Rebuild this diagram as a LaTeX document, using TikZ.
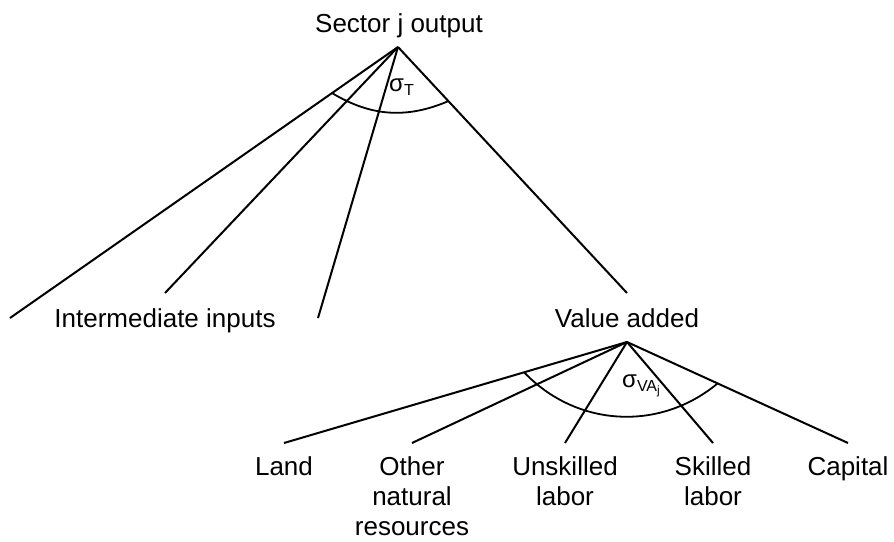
\documentclass[tikz,border=0pt]{standalone}
\usepackage{fontspec}
\setmainfont{Liberation Sans}
\usetikzlibrary{calc}
\tikzstyle{edge}  =[line width=1pt]
\tikzstyle{cesarc}=[line width=0.9pt]
\tikzstyle{lbl}   =[inner sep=0pt, anchor=north, align=center,
                    font=\fontsize{13}{15}\selectfont]
\tikzstyle{sig}   =[inner sep=0pt, font=\fontsize{12}{14}\selectfont]

\begin{document}
\begin{tikzpicture}[x=0.5pt,y=-0.5pt]
    \useasboundingbox (0,0) rectangle (894,541);

    % top nest
    \node[lbl] (sector) at (399,13) {Sector j output};
    \coordinate (top) at (398,47);
    \node[lbl] (inter) at (165,308) {Intermediate inputs};
    \node[lbl] (value) at (627,308) {Value added};

    \coordinate (ii1) at (10,318);
    \coordinate (ii2) at ([yshift=7.5pt]inter.north);
    \coordinate (ii3) at (318,318);
    \coordinate (vaend) at ([yshift=7.5pt]value.north);

    \foreach \e in {ii1,ii2,ii3,vaend}
        \draw [edge] (top) -- (\e);

    \draw [cesarc] ($(top)!0.17!(ii1)$) to[bend right=27] ($(top)!0.22!(vaend)$);
    \node[sig] (sigT) at (402,87) {σ\textsubscript{T}};

    % value added nest
    \coordinate (vatop) at (627,342);
    \node[lbl] (land) at (284,456) {Land};
    \node[lbl] (other) at (412,456) {Other\\natural\\resources};
    \node[lbl] (unsk) at (565,456) {Unskilled\\labor};
    \node[lbl] (skill) at (713,456) {Skilled\\labor};
    \node[lbl] (capital) at (848,456) {Capital};

    \foreach \n in {land,other,unsk,skill,capital}
        \draw [edge] (vatop) -- ([yshift=6.5pt]\n.north) coordinate (\n-end);

    \draw [cesarc] ($(vatop)!0.30!(land-end)$) to[bend right=43] ($(vatop)!0.41!(capital-end)$);
    \node[sig] (sigVA) at (642,386) {σ\textsubscript{VA\textsubscript{j}}};

\end{tikzpicture}
\end{document}
